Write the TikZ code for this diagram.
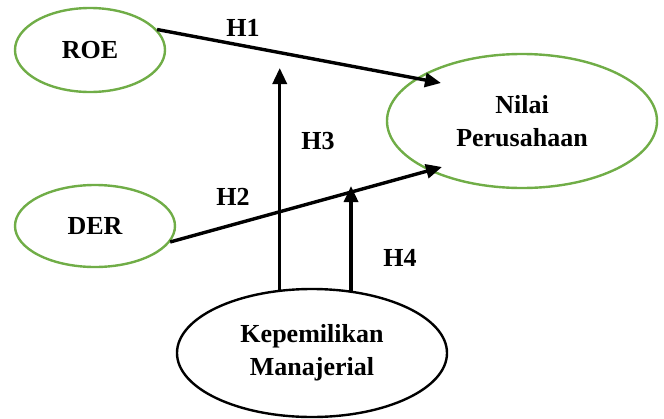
\documentclass[tikz,border=0pt]{standalone}
\usepackage{fontspec}
\setmainfont{Liberation Serif}
\usetikzlibrary{shapes.geometric,arrows.meta}
\definecolor{ovalgreen}{HTML}{70AD47}
\tikzset{
  oval/.style={ellipse, draw=#1, line width=2.4pt, inner sep=0pt, align=center,
    font=\fontsize{26}{33}\selectfont\bfseries},
  oval/.default=ovalgreen,
  arr/.style={line width=3.4pt, -{Triangle[length=16pt,width=14pt]}},
  hlabel/.style={font=\fontsize{26}{33}\selectfont\bfseries, inner sep=0pt}
}
\begin{document}
\begin{tikzpicture}[x=1pt,y=-1pt]
\useasboundingbox (0,0) rectangle (664,418);
\node[oval, minimum width=150pt, minimum height=84pt] (ROE) at (90,50) {ROE};
\node[oval, minimum width=160pt, minimum height=82pt] (DER) at (95,226) {DER};
\node[oval, minimum width=270pt, minimum height=134pt] (N) at (522,121) {Nilai\\Perusahaan};
\node[oval=black, minimum width=270pt, minimum height=128pt] (K) at (312,353) {Kepemilikan\\Manajerial};
\coordinate (t1) at (441,83);
\coordinate (t2) at (442,167);
\coordinate (t3) at (0,68);
\coordinate (t4) at (0,186);
\draw[arr] (ROE.17) -- (t1);
\draw[arr] (DER.-12) -- (t2);
\draw[arr] (K.117.6) -- (K.117.6 |- t3);
\draw[arr] (K.58.3) -- (K.58.3 |- t4);
\node[hlabel] (h1) at (243,28) {H1};
\node[hlabel] (h2) at (233,197) {H2};
\node[hlabel] (h3) at (318,141) {H3};
\node[hlabel] (h4) at (400,258) {H4};
\end{tikzpicture}
\end{document}
